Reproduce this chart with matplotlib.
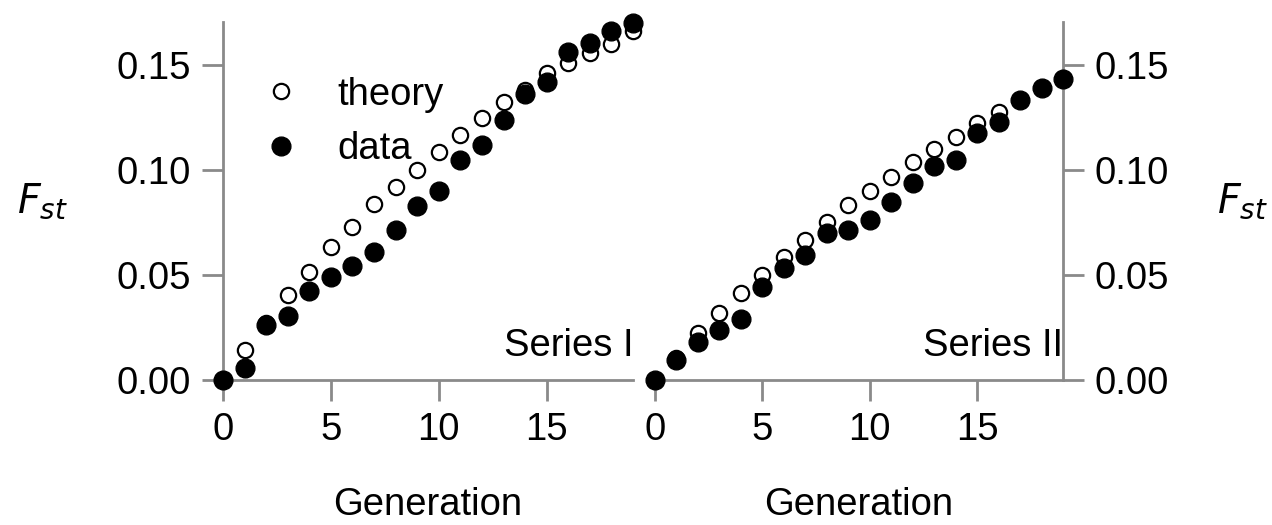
import numpy as np
import matplotlib.pyplot as plt

plt.rcParams['font.family'] = ['Liberation Sans', 'DejaVu Sans']
plt.rcParams['mathtext.fontset'] = 'dejavusans'

generation = np.arange(20)

# Series I
theory_1 = [0.0, 0.0143, 0.027, 0.0405, 0.0516, 0.0635, 0.073, 0.0838, 0.0917, 0.100,
            0.1087, 0.1167, 0.1246, 0.1325, 0.138, 0.146, 0.1508, 0.1556, 0.160, 0.166]
data_1 = [0.0, 0.0057, 0.0262, 0.0305, 0.0425, 0.0492, 0.0544, 0.0611, 0.0714, 0.083,
          0.090, 0.105, 0.112, 0.1238, 0.136, 0.142, 0.156, 0.1606, 0.166, 0.170]

# Series II
theory_2 = [0.0, 0.0105, 0.0222, 0.0317, 0.0413, 0.050, 0.0587, 0.0667, 0.0754, 0.0833,
            0.090, 0.0968, 0.1036, 0.110, 0.1159, 0.1222, 0.1278, 0.1333, 0.1389, 0.1433]
data_2 = [0.0, 0.0095, 0.0183, 0.0238, 0.029, 0.0444, 0.0532, 0.0595, 0.0698, 0.0714,
          0.0762, 0.0849, 0.0937, 0.102, 0.105, 0.1175, 0.1227, 0.1333, 0.1389, 0.1433]

yticks = [0.0, 0.05, 0.10, 0.15]
xticks = [0, 5, 10, 15]

FS = 27.5
grey = '#8a8a8a'

fig = plt.figure(figsize=(12.72, 5.25), dpi=100)
ax1 = fig.add_axes([223 / 1272, 145 / 525, 410 / 1272, 358 / 525])
ax2 = fig.add_axes([655 / 1272, 145 / 525, 408 / 1272, 358 / 525])

panels = [(ax1, theory_1, data_1, 'Series I', 'left'),
          (ax2, theory_2, data_2, 'Series II', 'right')]

for ax, th, dt, name, side in panels:
    ax.plot(generation, th, 'o', ms=11, mfc='white', mec='black', mew=1.6,
            label='theory', clip_on=False, zorder=3)
    ax.plot(generation, dt, 'o', ms=13.5, mfc='black', mec='black',
            label='data', clip_on=False, zorder=4)
    ax.set_xlim(0, 19)
    ax.set_ylim(0, 0.1705)
    ax.set_xticks(xticks)
    ax.set_yticks(yticks)
    ax.yaxis.set_major_formatter(plt.FormatStrFormatter('%.2f'))
    for s in ax.spines.values():
        s.set_color(grey)
        s.set_linewidth(2)
    ax.spines['top'].set_visible(False)
    if side == 'left':
        ax.spines['right'].set_visible(False)
    else:
        ax.spines['left'].set_visible(False)
        ax.yaxis.tick_right()
        ax.yaxis.set_label_position('right')
    ax.tick_params(axis='both', direction='out', length=15, width=2, color=grey,
                   labelsize=FS, pad=8)
    ax.set_xlabel('Generation', fontsize=FS)
    ax.set_ylabel(r'$F_{st}$', fontsize=FS + 1, rotation=0, va='center', ha='center')
    ax.xaxis.set_label_coords(0.5, -0.30)
    ax.text(1.0, 0.045, name, transform=ax.transAxes, ha='right', va='bottom',
            fontsize=FS)

ax1.yaxis.set_label_coords(-0.44, 0.5)
ax2.yaxis.set_label_coords(1.44, 0.5)

ax1.legend(loc='upper left', bbox_to_anchor=(0.01, 0.89), frameon=False,
           fontsize=FS, numpoints=1, handlelength=2.0, handletextpad=0.5,
           labelspacing=0.48, borderaxespad=0)

fig.savefig('out.png', dpi=100)
